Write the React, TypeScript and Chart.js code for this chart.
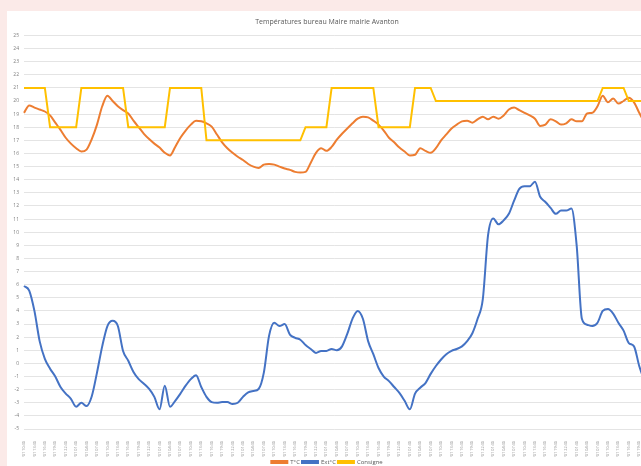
import React, { useEffect, useRef } from "react";
import { Chart, registerables } from "chart.js";

Chart.register(...registerables);

const TITLE = "Températures bureau Maire mairie Avanton";
const SERIES_NAMES = ["T°C", "Ext°C", "Consigne"];

const categories = [
  "11/01 10:30","11/01 12:00","11/01 13:30","11/01 15:00","11/01 16:30","11/01 18:00","11/01 19:30","11/01 21:00","11/01 22:30",
  "12/01 00:00","12/01 01:30","12/01 03:00","12/01 04:30","12/01 06:00","12/01 07:30","12/01 09:00","12/01 10:30","12/01 12:00","12/01 13:30","12/01 15:00","12/01 16:30","12/01 18:00","12/01 19:30","12/01 21:00","12/01 22:30",
  "13/01 00:00","13/01 01:30","13/01 03:00","13/01 04:30","13/01 06:00","13/01 07:30","13/01 09:00","13/01 10:30","13/01 12:00","13/01 13:30","13/01 15:00","13/01 16:30","13/01 18:00","13/01 19:30","13/01 21:00","13/01 22:30",
  "14/01 00:00","14/01 01:30","14/01 03:00","14/01 04:30","14/01 06:00","14/01 07:30","14/01 09:00","14/01 10:30","14/01 12:00","14/01 13:30","14/01 15:00","14/01 16:30","14/01 18:00","14/01 19:30","14/01 21:00","14/01 22:30",
  "15/01 00:00","15/01 01:30","15/01 03:00","15/01 04:30","15/01 06:00","15/01 07:30","15/01 09:00","15/01 10:30","15/01 12:00","15/01 13:30","15/01 15:00","15/01 16:30","15/01 18:00","15/01 19:30","15/01 21:00","15/01 22:30",
  "16/01 00:00","16/01 01:30","16/01 03:00","16/01 04:30","16/01 06:00","16/01 07:30","16/01 09:00","16/01 10:30","16/01 12:00","16/01 13:30","16/01 15:00","16/01 16:30","16/01 18:00","16/01 19:30","16/01 21:00","16/01 22:30",
  "17/01 00:00","17/01 01:30","17/01 03:00","17/01 04:30","17/01 06:00","17/01 07:30","17/01 09:00","17/01 10:30","17/01 12:00","17/01 13:30","17/01 15:00","17/01 16:30","17/01 18:00","17/01 19:30","17/01 21:00","17/01 22:30",
  "18/01 00:00","18/01 01:30","18/01 03:00","18/01 04:30","18/01 06:00","18/01 07:30","18/01 09:00","18/01 10:30","18/01 12:00","18/01 13:30","18/01 15:00","18/01 16:30","18/01 18:00","18/01 19:30","18/01 21:00"
];

const tempInt = [
  19.1, 19.66, 19.5, 19.35, 19.2, 18.9, 18.35, 17.8, 17.2, 16.75,
  16.4, 16.15, 16.3, 17.1, 18.2, 19.6, 20.4, 20.0, 19.6, 19.3,
  19.05, 18.5, 18.0, 17.5, 17.1, 16.75, 16.45, 16.05, 15.85, 16.5,
  17.2, 17.75, 18.2, 18.5, 18.45, 18.3, 18.05, 17.45, 16.85, 16.4,
  16.05, 15.75, 15.5, 15.2, 15.0, 14.9, 15.15, 15.2, 15.15, 15.0,
  14.85, 14.75, 14.6, 14.55, 14.6, 15.3, 16.05, 16.4, 16.2, 16.5,
  17.05, 17.5, 17.9, 18.3, 18.65, 18.8, 18.75, 18.5, 18.2, 17.75,
  17.2, 16.85, 16.45, 16.15, 15.85, 15.9, 16.4, 16.2, 16.05, 16.4,
  17.0, 17.45, 17.9, 18.2, 18.45, 18.5, 18.35, 18.6, 18.8, 18.6,
  18.8, 18.65, 18.9, 19.35, 19.5, 19.3, 19.1, 18.9, 18.65, 18.1,
  18.2, 18.6, 18.45, 18.2, 18.3, 18.6, 18.45, 18.45, 19.05, 19.1,
  19.6, 20.4, 19.9, 20.2, 19.8, 20.0, 20.25, 19.9, 19.1, 18.35
];

const tempExt = [
  5.9, 5.55, 4.0, 1.7, 0.35, -0.4, -1.0, -1.8, -2.3, -2.7,
  -3.3, -3.0, -3.25, -2.5, -0.7, 1.3, 2.85, 3.25, 2.85, 0.95,
  0.2, -0.65, -1.2, -1.55, -1.95, -2.55, -3.5, -1.7, -3.3, -2.85,
  -2.3, -1.7, -1.2, -0.9, -1.8, -2.55, -2.95, -3.0, -2.95, -2.95,
  -3.1, -3.0, -2.55, -2.2, -2.1, -1.95, -0.7, 2.1, 3.1, 2.85,
  3.0, 2.2, 1.95, 1.8, 1.4, 1.1, 0.8, 0.95, 0.95, 1.1,
  1.0, 1.3, 2.25, 3.4, 4.0, 3.4, 1.7, 0.7, -0.35, -1.0,
  -1.35, -1.8, -2.25, -2.85, -3.5, -2.3, -1.85, -1.5, -0.8, -0.2,
  0.3, 0.7, 0.95, 1.1, 1.3, 1.7, 2.3, 3.4, 4.9, 9.75,
  11.05, 10.6, 10.9, 11.4, 12.4, 13.3, 13.5, 13.5, 13.85, 12.7,
  12.3, 11.85, 11.4, 11.65, 11.65, 11.8, 9.0, 3.4, 2.95, 2.85,
  3.1, 4.0, 4.15, 3.8, 3.1, 2.5, 1.55, 1.3, -0.2, -1.35
];

const consigne = [
  21, 21, 21, 21, 21, 18, 18, 18, 18, 18,
  18, 21, 21, 21, 21, 21, 21, 21, 21, 21,
  18, 18, 18, 18, 18, 18, 18, 18, 21, 21,
  21, 21, 21, 21, 21, 17, 17, 17, 17, 17,
  17, 17, 17, 17, 17, 17, 17, 17, 17, 17,
  17, 17, 17, 17, 18, 18, 18, 18, 18, 21,
  21, 21, 21, 21, 21, 21, 21, 21, 18, 18,
  18, 18, 18, 18, 18, 21, 21, 21, 21, 20,
  20, 20, 20, 20, 20, 20, 20, 20, 20, 20,
  20, 20, 20, 20, 20, 20, 20, 20, 20, 20,
  20, 20, 20, 20, 20, 20, 20, 20, 20, 20,
  20, 21, 21, 21, 21, 21, 20, 20, 20, 20
];

const Y_MIN = -5;
const Y_MAX = 25;

const COLORS = ["#ED7D31", "#4472C4", "#FFC000"];
const FONT = "'Open Sans', 'Noto Sans', sans-serif";

export default function App() {
  const ref = useRef<HTMLCanvasElement | null>(null);

  useEffect(() => {
    if (!ref.current) return;
    const series = [tempInt, tempExt, consigne];
    const chart = new Chart(ref.current, {
      type: "line",
      data: {
        labels: categories,
        datasets: series.map((d, i) => ({
          label: SERIES_NAMES[i],
          data: d,
          borderColor: COLORS[i],
          backgroundColor: COLORS[i],
          borderWidth: 2,
          pointRadius: 0,
          tension: i === 2 ? 0 : 0.4,
          cubicInterpolationMode: i === 2 ? "default" : "monotone",
          order: 2 - i,
        })),
      },
      options: {
        responsive: false,
        animation: false,
        layout: { padding: { left: 2, right: 8, top: 0, bottom: 0 } },
        plugins: {
          title: {
            display: true,
            text: TITLE,
            color: "#595959",
            font: { family: FONT, size: 7, weight: "normal" },
            padding: { top: 7, bottom: 9 },
          },
          legend: {
            position: "bottom",
            labels: {
              color: "#595959",
              font: { family: FONT, size: 6 },
              boxWidth: 16,
              boxHeight: 2,
              padding: 2,
              sort: (a: any, b: any) => a.datasetIndex - b.datasetIndex,
            },
          },
          tooltip: { enabled: false },
        },
        scales: {
          x: {
            afterFit: (scale: any) => {
              scale.height = 28;
            },
            grid: { display: false },
            border: { display: false },
            ticks: {
              autoSkip: false,
              maxRotation: 90,
              minRotation: 90,
              color: "#8a8a8a",
              font: { family: FONT, size: 3.8 },
              padding: 4,
              callback: (_v: any, idx: number) => (idx % 2 === 0 ? categories[idx] : ""),
            },
          },
          y: {
            min: Y_MIN,
            max: Y_MAX,
            afterFit: (scale: any) => {
              scale.width = 15;
            },
            grid: { color: "#e4e4e4", drawTicks: false, lineWidth: 1 },
            border: { display: false },
            ticks: {
              stepSize: 1,
              autoSkip: false,
              color: "#7f7f7f",
              font: { family: FONT, size: 5 },
              padding: 5,
            },
          },
        },
      },
    });
    return () => chart.destroy();
  }, []);

  return (
    <>
      <div style={{ position: "fixed", inset: 0, background: "#fbeae8" }} />
      <div
        style={{
          position: "fixed",
          left: 7,
          top: 11,
          width: 646,
          height: 470,
          background: "#ffffff",
          overflow: "hidden",
        }}
      >
        <canvas ref={ref} width={646} height={464} style={{ display: "block" }} />
      </div>
    </>
  );
}
